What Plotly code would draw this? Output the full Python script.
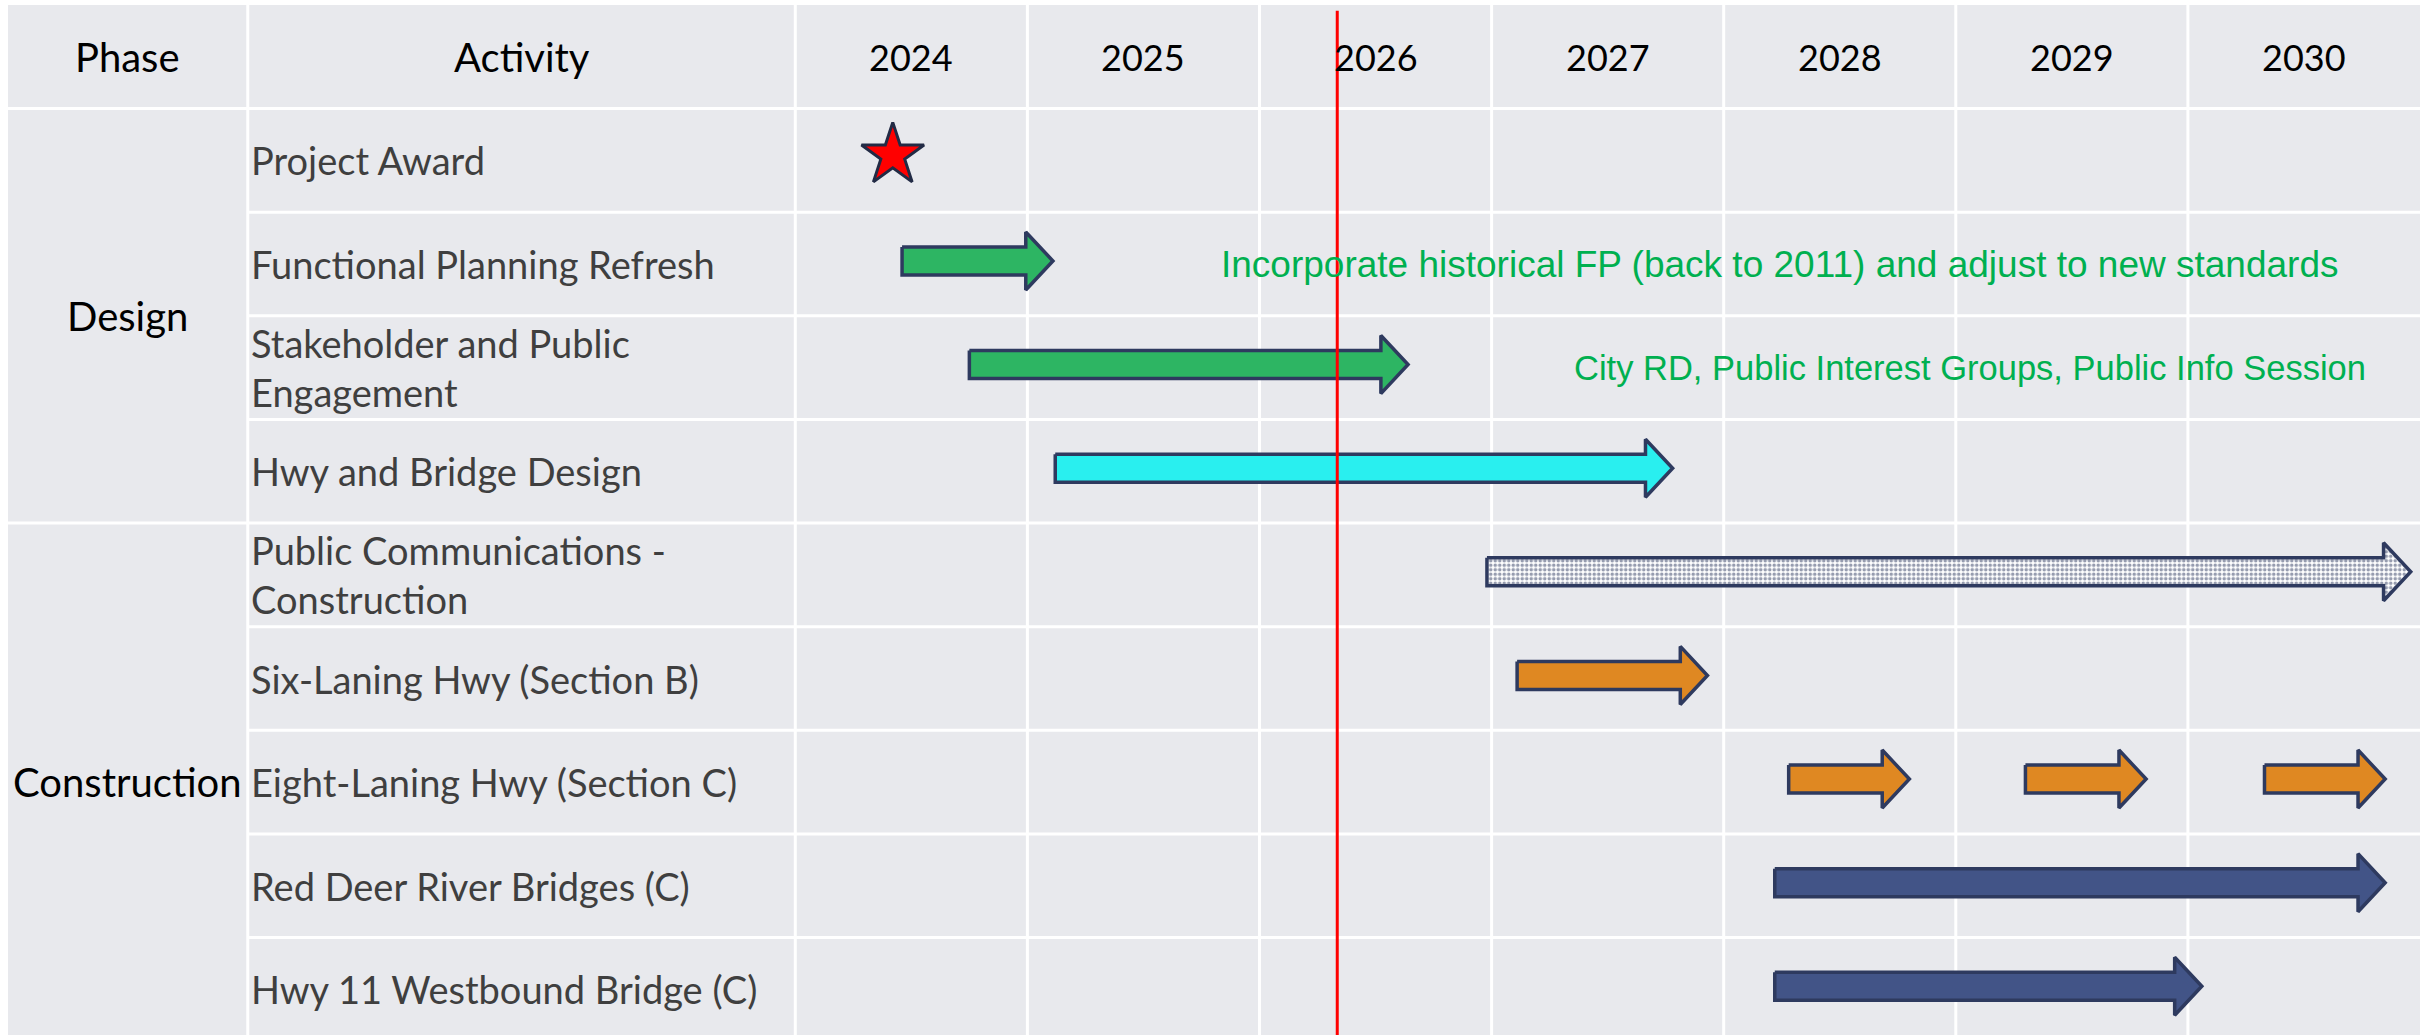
import plotly.graph_objects as go

# ---------------- data ----------------
YEARS = [2024, 2025, 2026, 2027, 2028, 2029, 2030]
HEADER_PHASE = "Phase"
HEADER_ACTIVITY = "Activity"

PHASES = ["Design", "Construction"]
PHASE_ROW_COUNTS = [4, 5]

ACTIVITIES = [
    "Project Award",
    "Functional Planning Refresh",
    "Stakeholder and Public<br>Engagement",
    "Hwy and Bridge Design",
    "Public Communications -<br>Construction",
    "Six-Laning Hwy (Section B)",
    "Eight-Laning Hwy (Section C)",
    "Red Deer River Bridges (C)",
    "Hwy 11 Westbound Bridge (C)",
]

# milestone (star)
MILESTONE_ACTIVITY = ["Project Award"]
MILESTONE_DATE = [2024.42]

# task arrows (decimal years)
TASK_ACTIVITY = [
    "Functional Planning Refresh",
    "Stakeholder and Public<br>Engagement",
    "Hwy and Bridge Design",
    "Public Communications -<br>Construction",
    "Six-Laning Hwy (Section B)",
    "Eight-Laning Hwy (Section C)",
    "Eight-Laning Hwy (Section C)",
    "Eight-Laning Hwy (Section C)",
    "Red Deer River Bridges (C)",
    "Hwy 11 Westbound Bridge (C)",
]
TASK_START = [2024.46, 2024.75, 2025.12, 2026.98, 2027.11, 2028.28, 2029.30, 2030.33, 2028.22, 2028.22]
TASK_END = [2025.11, 2026.64, 2027.78, 2030.96, 2027.93, 2028.80, 2029.82, 2030.85, 2030.85, 2030.06]
TASK_KIND = ["green", "green", "cyan", "dotted", "orange", "orange", "orange", "orange", "navy", "navy"]

# notes
NOTE_TEXT = [
    "Incorporate historical FP (back to 2011) and adjust to new standards",
    "City RD, Public Interest Groups, Public Info Session",
]
NOTE_ACTIVITY = ["Functional Planning Refresh", "Stakeholder and Public<br>Engagement"]
NOTE_CENTER = [2028.24, 2029.06]

TODAY = 2026.335

# ---------------- styles / layout constants ----------------
W, H = 2420, 1035
ML, MT = 8, 5
PHASE_COL_W = 1.033   # in year units
ACT_COL_W = 2.359
X_LEFT = YEARS[0] - ACT_COL_W - PHASE_COL_W
X_RIGHT = YEARS[-1] + 1
Y_TOP = -0.5
N_ROWS = len(ACTIVITIES)
Y_BOTTOM = 9.44

BG = "#E8E9ED"
GRID = "#FFFFFF"
OUTLINE = "#2E3A5F"
FILLS = {"green": "#2DB563", "cyan": "#29EFEF", "orange": "#DF8822", "navy": "#425487", "dotted": "#FFFFFF"}
NOTE_COLOR = "#00B050"
TEXT_FONT = "Lato"
BODY_HALF = 0.135
HEAD_HALF = 0.28
HEAD_LEN = 0.117

row_of = {a: i + 1 for i, a in enumerate(ACTIVITIES)}

fig = go.Figure()

# arrows
for act, x0, x1, kind in zip(TASK_ACTIVITY, TASK_START, TASK_END, TASK_KIND):
    y = row_of[act] - 0.03
    xb = x1 - HEAD_LEN
    xs = [x0, xb, xb, x1, xb, xb, x0, x0]
    ys = [y - BODY_HALF, y - BODY_HALF, y - HEAD_HALF, y, y + HEAD_HALF, y + BODY_HALF, y + BODY_HALF, y - BODY_HALF]
    kw = dict(
        x=xs, y=ys, mode="lines", fill="toself",
        line=dict(color=OUTLINE, width=3.5),
        fillcolor=FILLS[kind], hoverinfo="skip", showlegend=False,
    )
    if kind == "dotted":
        kw["fillpattern"] = dict(shape=".", fgcolor=OUTLINE, bgcolor="#FFFFFF", size=4.5, solidity=0.5)
    fig.add_trace(go.Scatter(**kw))

# milestone star
fig.add_trace(go.Scatter(
    x=MILESTONE_DATE, y=[row_of[a] - 0.05 for a in MILESTONE_ACTIVITY],
    mode="markers",
    marker=dict(symbol="star", size=47, color="#FF0000", line=dict(color="#222B45", width=3)),
    hoverinfo="skip", showlegend=False,
))

shapes = []
phase_x = X_LEFT + PHASE_COL_W
# vertical grid lines
for xv in [phase_x] + YEARS[:]:
    shapes.append(dict(type="line", xref="x", yref="y", x0=xv, x1=xv, y0=Y_TOP, y1=Y_BOTTOM + 1,
                       line=dict(color=GRID, width=3), layer="below"))
# horizontal grid lines
phase_breaks = []
acc = 0
for c in PHASE_ROW_COUNTS[:-1]:
    acc += c
    phase_breaks.append(acc + 0.5)
for r in range(N_ROWS):
    yb = r + 0.5
    full = (r == 0) or (yb in phase_breaks)
    shapes.append(dict(type="line", xref="x", yref="y", x0=X_LEFT if full else phase_x, x1=X_RIGHT + 1,
                       y0=yb, y1=yb, line=dict(color=GRID, width=3), layer="below"))
# today line
shapes.append(dict(type="line", xref="x", yref="y", x0=TODAY, x1=TODAY, y0=Y_TOP + 0.055, y1=Y_BOTTOM + 1,
                   line=dict(color="#FF0000", width=3), layer="above"))

ann = []
hdr_font = dict(family=TEXT_FONT, size=40, color="#000000")
yr_font = dict(family=TEXT_FONT, size=36, color="#000000")
ann.append(dict(x=X_LEFT + PHASE_COL_W / 2, y=0, text=HEADER_PHASE, showarrow=False, font=hdr_font,
                xanchor="center", yanchor="middle"))
ann.append(dict(x=phase_x + ACT_COL_W / 2, y=0, text=HEADER_ACTIVITY, showarrow=False, font=hdr_font,
                xanchor="center", yanchor="middle"))
for yr in YEARS:
    ann.append(dict(x=yr + 0.5, y=0, text=str(yr), showarrow=False, font=yr_font,
                    xanchor="center", yanchor="middle"))
start = 1
for ph, c in zip(PHASES, PHASE_ROW_COUNTS):
    ann.append(dict(x=X_LEFT + PHASE_COL_W / 2, y=start + (c - 1) / 2, text=ph, showarrow=False,
                    font=dict(family=TEXT_FONT, size=40, color="#000000"), xanchor="center", yanchor="middle"))
    start += c
for a in ACTIVITIES:
    ann.append(dict(x=phase_x, y=row_of[a], text=a, showarrow=False, xshift=1, align="left",
                    font=dict(family=TEXT_FONT, size=38, color="#3F3F3F"), xanchor="left", yanchor="middle"))
for t, a, xc, fs in zip(NOTE_TEXT, NOTE_ACTIVITY, NOTE_CENTER, [37, 34.5]):
    ann.append(dict(x=xc, y=row_of[a], text=t, showarrow=False,
                    font=dict(family="Liberation Sans, Arial", size=fs, color=NOTE_COLOR),
                    xanchor="center", yanchor="middle"))

fig.update_layout(
    width=W, height=H,
    margin=dict(l=ML, r=0, t=MT, b=0, pad=0),
    paper_bgcolor="#FFFFFF", plot_bgcolor=BG,
    xaxis=dict(range=[X_LEFT, X_RIGHT], showgrid=False, zeroline=False, showticklabels=False, fixedrange=True),
    yaxis=dict(range=[Y_BOTTOM, Y_TOP], showgrid=False, zeroline=False, showticklabels=False, fixedrange=True),
    shapes=shapes, annotations=ann, showlegend=False,
)

fig.write_html("out.html", config={"displayModeBar": False},
               post_script="document.body.style.margin='0';document.body.style.overflow='hidden';")
